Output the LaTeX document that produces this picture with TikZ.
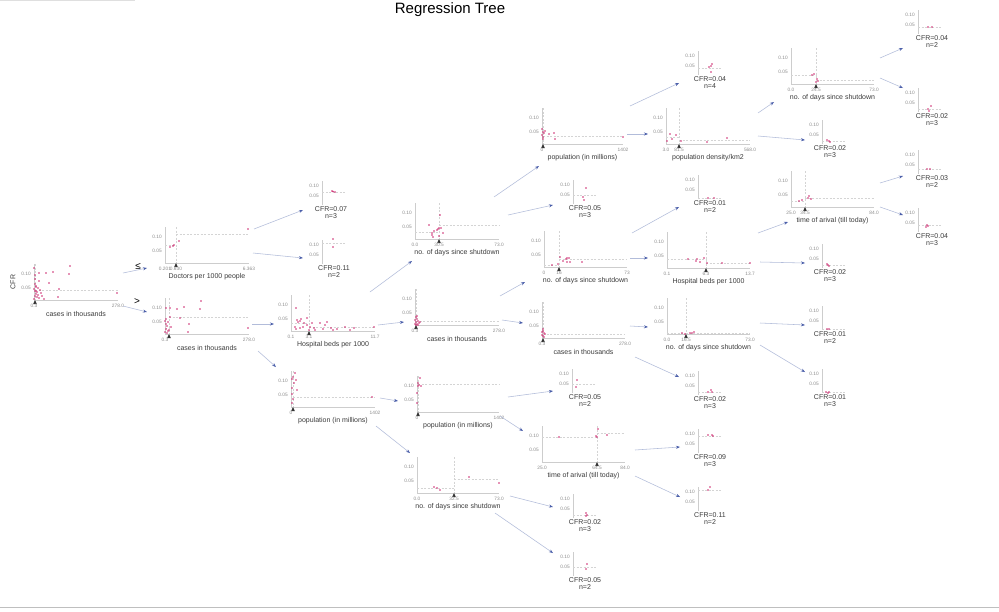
\documentclass[tikz,border=0pt]{standalone}
\usepackage{fontspec}
\setmainfont{Liberation Sans}
\usetikzlibrary{arrows.meta}
\definecolor{axc}{RGB}{205,205,205}
\definecolor{tkc}{RGB}{140,140,140}
\definecolor{txc}{RGB}{60,60,60}
\definecolor{dsc}{RGB}{212,212,212}
\definecolor{ptcol}{RGB}{205,40,110}
\definecolor{arl}{RGB}{178,188,218}
\definecolor{arh}{RGB}{75,95,170}
\tikzset{
 ax/.style={draw=axc,line width=0.7pt},
 tk/.style={font=\fontsize{4.8}{5}\selectfont,text=tkc,inner sep=0pt},
 xl/.style={font=\fontsize{7}{8}\selectfont,text=txc,inner sep=0pt},
 lf/.style={font=\fontsize{7}{8}\selectfont,text=txc,inner sep=0pt},
 dsh/.style={draw=dsc,line width=0.45pt,dash pattern=on 2pt off 1.5pt},
 ptc/.style={fill=ptcol},
 tri/.style={fill=black!80},
 edge/.style={draw=arl,line width=0.55pt,-{Stealth[length=4pt,width=3pt,color=arh]}},
}
% decision plot axes: id, X0, Y, XR, xlabel
\newcommand\daxes[5]{%
 \draw[ax] (#2,#3-36) -- (#2,#3) -- (#4,#3);
 \node[tk,anchor=east] (#1-y10) at (#2-3,#3-26) {0.10};
 \node[tk,anchor=east] (#1-y05) at (#2-3,#3-12) {0.05};
 \node[xl] (#1-lab) at ({(#2+#4)/2},#3+14) {#5};
}
% split: id, X0, Y, XR, sx, left tick, split tick, right tick
\newcommand\dsplit[8]{%
 \draw[dsh] (#5,#3-36) -- (#5,#3);
 \fill[tri] (#5,#3) -- ++(-1.8,4) -- ++(3.6,0) -- cycle;
 \node[tk] (#1-xa) at (#2,#3+6) {#6};
 \node[tk] (#1-xb) at (#5,#3+6) {#7};
 \node[tk] (#1-xc) at (#4,#3+6) {#8};
}
% leaf: id, A, T, text x, cfr, n, points dx/dy
\newcommand\leafplot[7]{%
 \draw[ax] (#2,#3) -- (#2,#3+24);
 \node[tk,anchor=east] (#1-y10) at (#2-3,#3+5) {0.10};
 \node[tk,anchor=east] (#1-y05) at (#2-3,#3+15) {0.05};
 \draw[dsh] (#2,{#3+25-200*#5}) -- ++(24,0);
 \foreach \dx/\dy in {#7} \fill[ptc] (#2+\dx,{#3+25-200*#5+(\dy)}) circle (0.9pt);
 \node[lf] (#1-c) at (#4,#3+28.5) {CFR=#5};
 \node[lf] (#1-n) at (#4,#3+35.5) {n=#6};
}
\begin{document}
\begin{tikzpicture}[x=1pt,y=-1pt]
\useasboundingbox (0,0) rectangle (999,611);
\fill[white] (0,0) rectangle (999,611);
\draw[gray!25,line width=0.8pt] (0,0.5) -- (135,0.5);
\draw[gray!50,line width=0.8pt] (0,607.5) -- (999,607.5);
\node[font=\fontsize{15}{16}\selectfont] (title) at (450,10) {Regression Tree};

% root
\daxes{root}{34}{300}{118}{cases in thousands}
\dsplit{root}{34}{300}{118}{35}{0.3}{}{278.0}
\node[xl,rotate=90] (root-ylab) at (13,282) {CFR};
\draw[dsh] (35,290) -- (118,290);
\foreach \p in {(35,275),(39,273),(46,273),(53,272),(70,266),(69,274),(49,283),(39,281),(59,289),(58,297),(117,293),(35,284),(36,287),(34,289),(35,291),(37,292),(36,294),(38,295),(35,296),(37,297),(39,298),(34,299),(40,290),(41,293),(36,286),(38,288),(42,296),(36,291),(35,279),(34,268),(44,299)} \fill[ptc] \p circle (0.9pt);
\node[font=\fontsize{10}{10}\selectfont] (le) at (138,266) {≤};
\node[font=\fontsize{10}{10}\selectfont] (gt) at (137,302) {>};

% node 2
\daxes{n2}{165}{263}{249}{Doctors per 1000 people}
\dsplit{n2}{165}{263}{249}{176}{0.201}{0.630}{6.363}
\draw[dsh] (165,245) -- (176,245);
\draw[dsh] (176,234) -- (249,234);
\foreach \p in {(170,247),(173,246),(174,245),(179,241),(248,229)} \fill[ptc] \p circle (0.9pt);

% node 3
\daxes{n3}{165}{334}{249}{cases in thousands}
\dsplit{n3}{165}{334}{249}{169}{0.3}{}{278.0}
\draw[dsh] (165,328) -- (169,328);
\draw[dsh] (169,317) -- (249,317);
\foreach \p in {(166,308),(170,308),(177,309),(184,307),(201,301),(200,309),(180,318),(189,324),(188,332),(248,328),(170,317),(171,327),(169,330),(165,321),(166,324),(167,326),(166,329),(168,331),(165,332),(167,333),(166,319),(168,322)} \fill[ptc] \p circle (0.9pt);

% node 4
\daxes{n4}{291}{331}{375}{Hospital beds per 1000}
\dsplit{n4}{291}{331}{375}{309}{0.1}{3.1}{11.7}
\draw[dsh] (291,323) -- (309,323);
\draw[dsh] (309,327) -- (375,327);
\foreach \p in {(296,308),(297,320),(298,322),(300,321),(301,319),(295,327),(296,329),(300,328),(303,327),(304,323),(307,318),(307,325),(310,327),(312,323),(314,328),(315,330),(320,323),(323,329),(325,325),(327,322),(331,328),(333,330),(337,329),(345,327),(350,330),(354,328),(374,327),(309,330)} \fill[ptc] \p circle (0.9pt);

% node 5
\daxes{n5}{291}{407}{375}{population (in millions)}
\dsplit{n5}{291}{407}{375}{293}{0}{}{1402}
\draw[dsh] (293,397) -- (375,397);
\foreach \p in {(295,373),(293,377),(292,379),(296,380),(292,388),(297,390),(292,394),(293,399),(292,403),(294,383),(372,397)} \fill[ptc] \p circle (0.9pt);

% node 6
\daxes{n6}{415}{239}{499}{no. of days since shutdown}
\dsplit{n6}{415}{239}{499}{439}{0.0}{30.5}{73.0}
\draw[dsh] (415,232) -- (439,232);
\draw[dsh] (439,225) -- (499,225);
\foreach \p in {(429,225),(432,233),(432,235),(434,231),(433,237),(437,230),(438,229),(439,228),(439,236),(441,228),(443,233),(440,215)} \fill[ptc] \p circle (0.9pt);

% node 7
\daxes{n7}{415}{325}{499}{cases in thousands}
\dsplit{n7}{415}{325}{499}{416}{0.3}{}{278.0}
\draw[dsh] (416,321) -- (499,321);
\foreach \p in {(416,317),(417,319),(415,320),(418,321),(416,322),(419,323),(417,324),(415,324),(420,322),(418,325),(416,325),(417,316)} \fill[ptc] \p circle (0.9pt);

% node 8
\daxes{n8}{417}{412}{499}{population (in millions)}
\dsplit{n8}{417}{412}{499}{418}{0}{}{1402}
\draw[dsh] (418,384) -- (499,384);
\foreach \p in {(420,378),(418,383),(419,385),(418,386),(421,386),(417,393),(417,403)} \fill[ptc] \p circle (0.9pt);

% node 9
\daxes{n9}{417}{493}{499}{no. of days since shutdown}
\dsplit{n9}{417}{493}{499}{454}{0.0}{32.5}{73.0}
\draw[dsh] (417,488) -- (454,488);
\draw[dsh] (454,479) -- (499,479);
\foreach \p in {(434,487),(437,488),(440,490),(469,477),(499,483)} \fill[ptc] \p circle (0.9pt);

% node 10
\daxes{n10}{542}{144}{623}{population (in millions)}
\dsplit{n10}{542}{144}{623}{543}{0}{}{1402}
\draw[dsh] (543,136) -- (623,136);
\foreach \p in {(542,129),(543,132),(544,133),(549,134),(554,133),(555,139),(543,139),(623,137),(543,137),(545,131),(542,135)} \fill[ptc] \p circle (0.9pt);

% node 11
\daxes{n11}{544}{267}{627}{no. of days since shutdown}
\dsplit{n11}{544}{267}{627}{559}{0}{16}{73}
\draw[dsh] (544,265) -- (559,265);
\draw[dsh] (559,259) -- (627,259);
\foreach \p in {(558,264),(560,257),(563,261),(566,259),(567,258),(569,258),(567,262),(570,262),(582,262),(552,265)} \fill[ptc] \p circle (0.9pt);

% node 12
\daxes{n12}{542}{338}{625}{cases in thousands}
\dsplit{n12}{542}{338}{625}{543}{0.3}{}{278.0}
\draw[dsh] (543,334) -- (625,334);
\foreach \p in {(543,331),(544,333),(542,335),(543,336),(545,334),(544,337),(542,332),(543,329)} \fill[ptc] \p circle (0.9pt);

% node 13
\daxes{n13}{542}{462}{625}{time of arival (till today)}
\dsplit{n13}{542}{462}{625}{597}{25.0}{64.5}{84.0}
\draw[dsh] (542,437) -- (597,437);
\draw[dsh] (597,433) -- (625,433);
\foreach \p in {(559,437),(597,437),(598,429),(607,435),(596,436)} \fill[ptc] \p circle (0.9pt);

% node 14
\daxes{n14}{666}{144}{750}{population density/km2}
\dsplit{n14}{666}{144}{750}{679}{3.0}{81.5}{568.0}
\draw[dsh] (666,137) -- (679,137);
\draw[dsh] (679,140) -- (750,140);
\foreach \p in {(667,141),(670,134),(672,139),(676,135),(681,141),(707,142),(727,138)} \fill[ptc] \p circle (0.9pt);

% node 15
\daxes{n15}{667}{268}{750}{Hospital beds per 1000}
\dsplit{n15}{667}{268}{750}{706}{0.1}{6.3}{13.7}
\draw[dsh] (667,259) -- (706,259);
\draw[dsh] (706,263) -- (750,263);
\foreach \p in {(688,259),(696,261),(697,259),(700,262),(704,258),(707,263),(722,263),(750,263)} \fill[ptc] \p circle (0.9pt);

% node 16
\daxes{n16}{667}{334}{750}{no. of days since shutdown}
\dsplit{n16}{667}{334}{750}{686}{0.0}{16.5}{73.0}
\draw[dsh] (667,333) -- (686,333);
\draw[dsh] (686,333) -- (750,333);
\foreach \p in {(682,333),(690,333),(692,333),(694,332),(685,334)} \fill[ptc] \p circle (0.9pt);

% node 17
\daxes{n17}{791}{84}{874}{no. of days since shutdown}
\dsplit{n17}{791}{84}{874}{816}{0.0}{24.5}{73.0}
\draw[dsh] (791,75) -- (816,75);
\draw[dsh] (816,80) -- (874,80);
\foreach \p in {(812,75),(814,74),(817,79),(818,81),(816,82)} \fill[ptc] \p circle (0.9pt);

% node 18
\daxes{n18}{791}{207}{874}{time of arival (till today)}
\dsplit{n18}{791}{207}{874}{805}{25.0}{34.5}{84.0}
\draw[dsh] (791,201) -- (805,201);
\draw[dsh] (805,198) -- (874,198);
\foreach \p in {(799,201),(802,200),(808,198),(809,196),(811,199)} \fill[ptc] \p circle (0.9pt);

% leaves
\leafplot{l1}{322}{181}{331}{0.07}{3}{10/-1,13/0,11/-0.5}
\leafplot{l2}{322}{240}{334}{0.11}{2}{11/-4,11/4}
\leafplot{l3}{573}{180}{585}{0.05}{3}{13/-7,10/2,11/5}
\leafplot{l4}{572}{369}{585}{0.05}{2}{5/-4,4/3}
\leafplot{l5}{573}{494}{585}{0.02}{3}{13/-2,14/0,13/1}
\leafplot{l6}{573}{552}{585}{0.05}{2}{14/-3,13/2}
\leafplot{l7}{698}{51}{710}{0.04}{4}{11/-1,13/-2,14/-4,13/4}
\leafplot{l8}{698}{175}{710}{0.01}{2}{10/0,16/0}
\leafplot{l9}{698}{371}{710}{0.02}{3}{10/0,13/-2,14/0}
\leafplot{l10}{698}{429}{710}{0.09}{3}{10/-1,14/-1,15/0}
\leafplot{l11}{698}{487}{710}{0.11}{2}{10/0,12/-3}
\leafplot{l12}{822}{120}{830}{0.02}{3}{5/-1,7/0,8/1}
\leafplot{l13}{822}{244}{830}{0.02}{3}{5/-1,6/0,7/1}
\leafplot{l14}{822}{306}{830}{0.01}{2}{5/0,7/0}
\leafplot{l15}{822}{369}{830}{0.01}{3}{4/0,7/0,6/1}
\leafplot{l16}{918}{10}{932}{0.04}{2}{10/0,14/0}
\leafplot{l17}{918}{88}{932}{0.02}{3}{10/0,13/-3,11/2}
\leafplot{l18}{918}{150}{932}{0.03}{2}{9/0,12/0}
\leafplot{l19}{918}{208}{932}{0.04}{3}{9/0,10/1,8/2}

% connectors
\foreach \k/\sx/\sy/\ex/\ey in {
 1/123/273/147/268, 2/123/306/147/312,
 3/254/229/303/210, 4/253/253/303/258,
 5/252/324/274/324, 6/258/351/276/367,
 7/370/292/412/261, 8/378/325/404/322,
 9/380/398/398/401, 10/376/426/410/453,
 11/494/197/539/166, 12/508/215/553/205,
 13/500/296/525/282, 14/502/320/523/323,
 15/508/397/553/391, 16/500/416/523/431,
 17/510/496/553/507, 18/495/513/553/553,
 19/630/106/679/83, 20/627/134/648/134,
 21/632/233/679/207, 22/630/258/648/258,
 23/630/326/648/327, 24/635/357/679/377,
 25/635/450/680/447, 26/635/476/680/497,
 27/758/113/774/102, 28/758/136/805/140,
 29/758/233/788/222, 30/760/262/805/263,
 31/760/323/805/325, 32/760/345/805/372,
 33/880/58/903/48, 34/880/78/903/88,
 35/880/183/903/176, 36/880/207/903/215}{
 \coordinate (e\k s) at (\sx,\sy);
 \coordinate (e\k e) at (\ex,\ey);
 \draw[edge] (e\k s) -- (e\k e);
}
\end{tikzpicture}
\end{document}
